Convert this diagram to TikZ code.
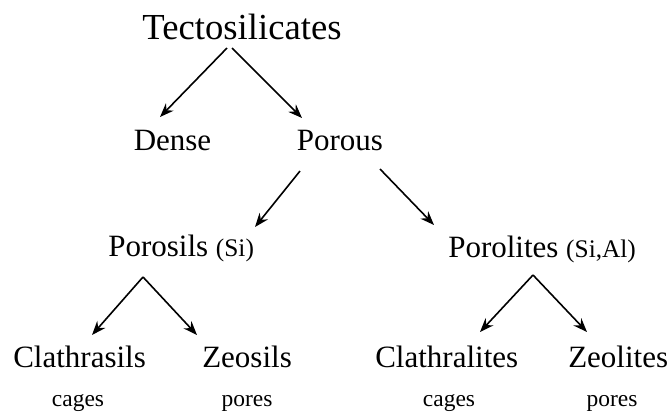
\documentclass[tikz,border=0pt]{standalone}
\usepackage{fontspec}
\setmainfont{Liberation Serif}
\usepackage{tikz}
\usetikzlibrary{calc,arrows.meta,positioning}

\begin{document}
\begin{tikzpicture}[x=0.75pt,y=0.75pt,yscale=-1,xscale=1,
  lab/.style={inner sep=0pt,font=\fontsize{23.25}{26}\selectfont},
  sub/.style={inner sep=0pt,font=\fontsize{17.6}{20}\selectfont},
  arr/.style={line width=1.2pt,-{Stealth[length=10.5pt,width=8pt,inset=3.5pt]}}]
\useasboundingbox (0,0) rectangle (667,411);

% Text Nodes
\node [inner sep=0pt,font=\fontsize{27.5}{30}\selectfont,anchor=base] (tecto) at (242,39) {Tectosilicates};
\node [lab,anchor=base] (dense) at (172.5,150) {Dense};
\node [lab,anchor=base] (porous) at (340,150) {Porous};
\node [lab,anchor=base west] (porosils) at (108,256) {Porosils {\fontsize{19}{21}\selectfont(Si)}};
\node [lab,anchor=base west] (porolites) at (448,257) {Porolites {\fontsize{19}{21}\selectfont(Si,Al)}};
\node [lab,anchor=base west] (clathrasils) at (13,367) {Clathrasils};
\node [lab,anchor=base west] (zeosils) at (202,367) {Zeosils};
\node [lab,anchor=base west] (clathralites) at (375,367) {Clathralites};
\node [lab,anchor=base west] (zeolites) at (568,367) {Zeolites};
\node [sub,anchor=base] (cagesA) at (78,406) {cages};
\node [sub,anchor=base] (poresA) at (247,406) {pores};
\node [sub,anchor=base] (cagesB) at (449,406) {cages};
\node [sub,anchor=base] (poresB) at (612,406) {pores};

% Arrows
\draw [arr] ($(tecto.base)+(-15,9)$) -- ($(dense.base)+(-12.5,-33)$);
\draw [arr] ($(tecto.base)+(-10,9)$) -- ($(porous.base)+(-38,-32)$);
\draw [arr] ($(porous.base)+(-40,21)$) -- ($(porosils.base west)+(147,-29)$);
\draw [arr] ($(porous.base)+(40,19)$) -- ($(porolites.base west)+(-14,-32)$);
\draw [arr] ($(porosils.base west)+(35,21)$) -- ($(clathrasils.base west)+(79,-32)$);
\draw [arr] ($(porosils.base west)+(35,21)$) -- ($(zeosils.base west)+(-5,-32)$);
\draw [arr] ($(porolites.base west)+(85,18)$) -- ($(clathralites.base west)+(105,-35)$);
\draw [arr] ($(porolites.base west)+(85,18)$) -- ($(zeolites.base west)+(19,-35)$);

\end{tikzpicture}
\end{document}
